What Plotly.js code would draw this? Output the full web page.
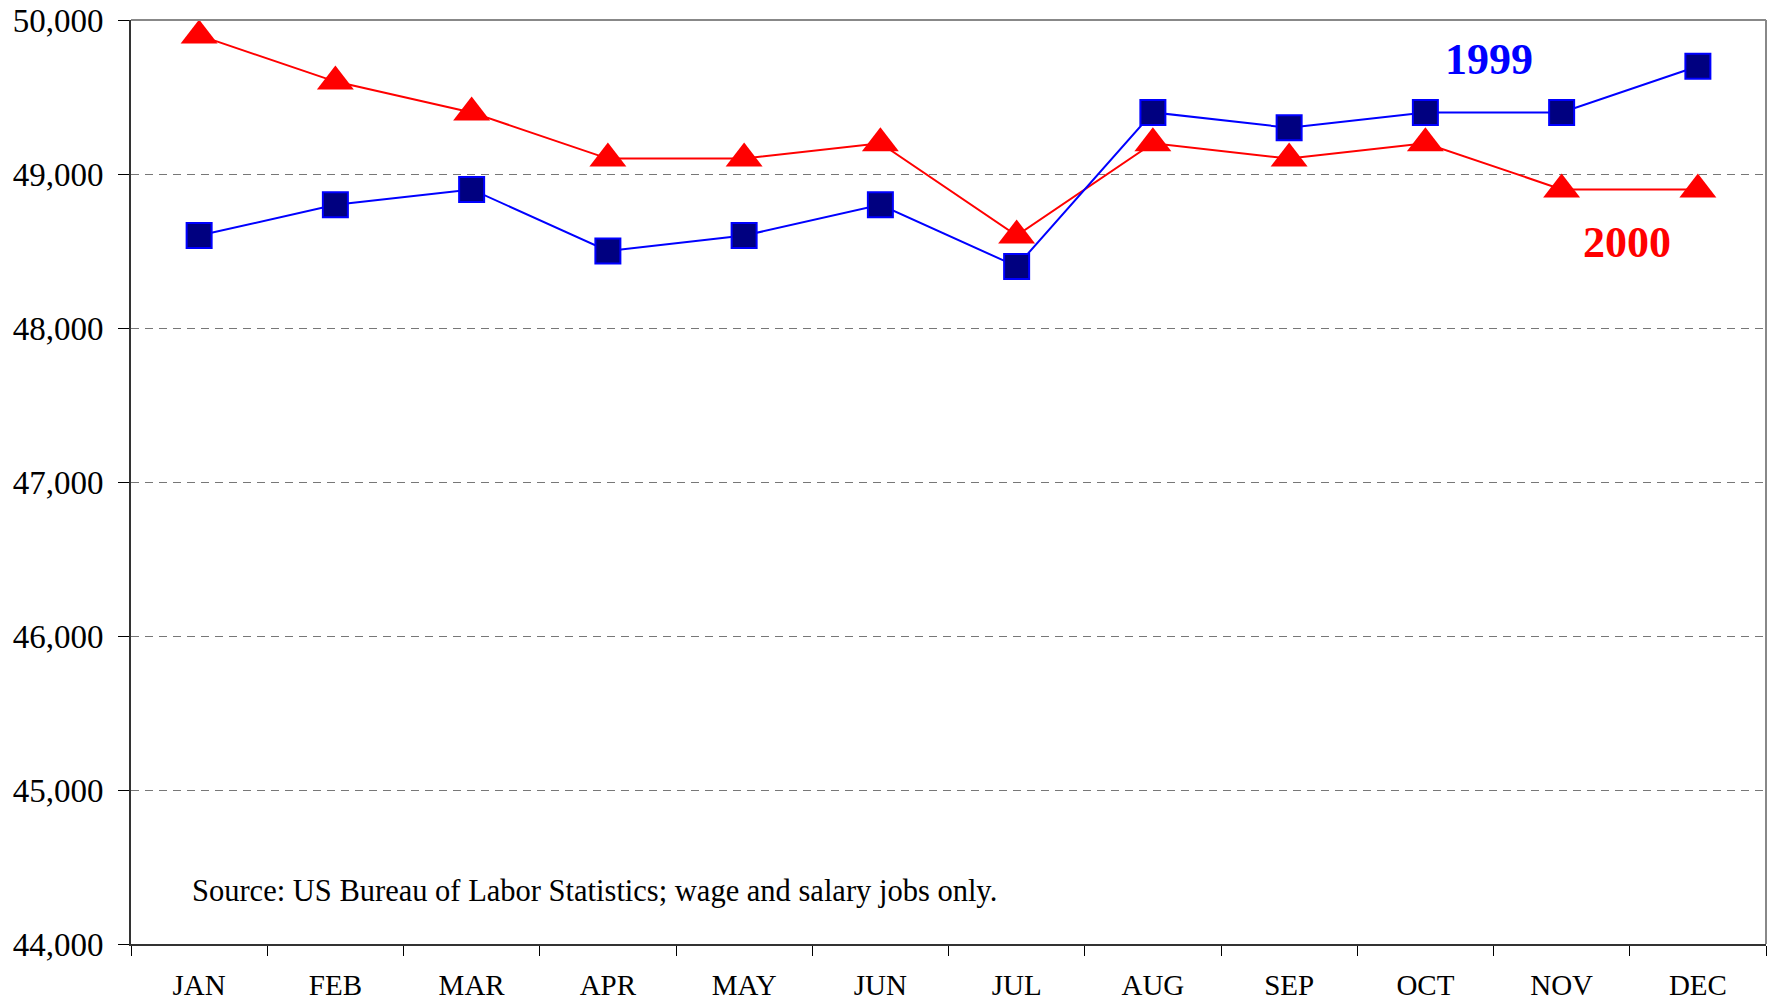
<!DOCTYPE html>
<html>
<head>
<meta charset="utf-8">
<script src="https://cdn.plot.ly/plotly-3.0.1.min.js"></script>
<style>html,body{margin:0;padding:0;background:#fff;}#chart{width:1774px;height:1002px;}</style>
</head>
<body>
<div id="chart"></div>
<script>
const months = ["JAN","FEB","MAR","APR","MAY","JUN","JUL","AUG","SEP","OCT","NOV","DEC"];
const jobs1999 = [48600,48800,48900,48500,48600,48800,48400,49400,49300,49400,49400,49700];
const jobs2000 = [49900,49600,49400,49100,49100,49200,48600,49200,49100,49200,48900,48900];
const yTicks = [44000,45000,46000,47000,48000,49000,50000];
const yTickText = ["44,000","45,000","46,000","47,000","48,000","49,000","50,000"];
const sourceNote = "Source: US Bureau of Labor Statistics; wage and salary jobs only.";

const FONT = "Liberation Serif, Times New Roman, serif";

const traces = [
  {
    x: months, y: jobs2000, type: "scatter", mode: "lines+markers", name: "2000",
    line: {color: "#FF0000", width: 2},
    marker: {symbol: "triangle-up", size: 32, color: "#FF0000", line: {color: "#FF0000", width: 0}},
    cliponaxis: false
  },
  {
    x: months, y: jobs1999, type: "scatter", mode: "lines+markers", name: "1999",
    line: {color: "#0000FF", width: 2},
    marker: {symbol: "square", size: 25, color: "#000080", line: {color: "#0000FF", width: 2}},
    cliponaxis: false
  }
];

const layout = {
  width: 1774, height: 1002,
  margin: {l: 131, r: 8, t: 20, b: 58},
  paper_bgcolor: "#fff", plot_bgcolor: "#fff",
  showlegend: false,
  font: {family: FONT, color: "#000"},
  xaxis: {
    type: "category",
    categoryorder: "array", categoryarray: months,
    range: [-0.5, 11.5],
    tickson: "boundaries",
    ticks: "outside", ticklen: 10, tickcolor: "#000", tickwidth: 1,
    showline: true, linecolor: "#333", linewidth: 2,
    showgrid: false, zeroline: false,
    tickfont: {family: FONT, size: 29, color: "#000"},
    ticklabelstandoff: 14,
    fixedrange: true
  },
  yaxis: {
    range: [44000, 50000],
    tickvals: yTicks, ticktext: yTickText,
    ticks: "outside", ticklen: 11, tickcolor: "#000", tickwidth: 1,
    showline: true, linecolor: "#333", linewidth: 2,
    showgrid: true, gridcolor: "#777", gridwidth: 1, griddash: "8px,6px",
    zeroline: false,
    tickfont: {family: FONT, size: 33, color: "#000"},
    ticklabelstandoff: 8,
    fixedrange: true
  },
  shapes: [
    {type: "line", xref: "paper", yref: "paper", x0: 0, x1: 1, y0: 1, y1: 1, line: {color: "#888", width: 2}},
    {type: "line", xref: "paper", yref: "paper", x0: 1, x1: 1, y0: 0, y1: 1, line: {color: "#888", width: 2}}
  ],
  annotations: [
    {text: "<b>1999</b>", xref: "paper", yref: "y", x: 0.8306, y: 49745, showarrow: false,
     font: {family: FONT, size: 44, color: "#0000FF"}, xanchor: "center", yanchor: "middle"},
    {text: "<b>2000</b>", xref: "paper", yref: "y", x: 0.915, y: 48555, showarrow: false,
     font: {family: FONT, size: 44, color: "#FF0000"}, xanchor: "center", yanchor: "middle"},
    {text: sourceNote, xref: "paper", yref: "y", x: 0.036, y: 44341, showarrow: false,
     font: {family: FONT, size: 30.5, color: "#000"}, xanchor: "left", yanchor: "middle"}
  ]
};

Plotly.newPlot("chart", traces, layout, {displayModeBar: false, staticPlot: true});
</script>
</body>
</html>
